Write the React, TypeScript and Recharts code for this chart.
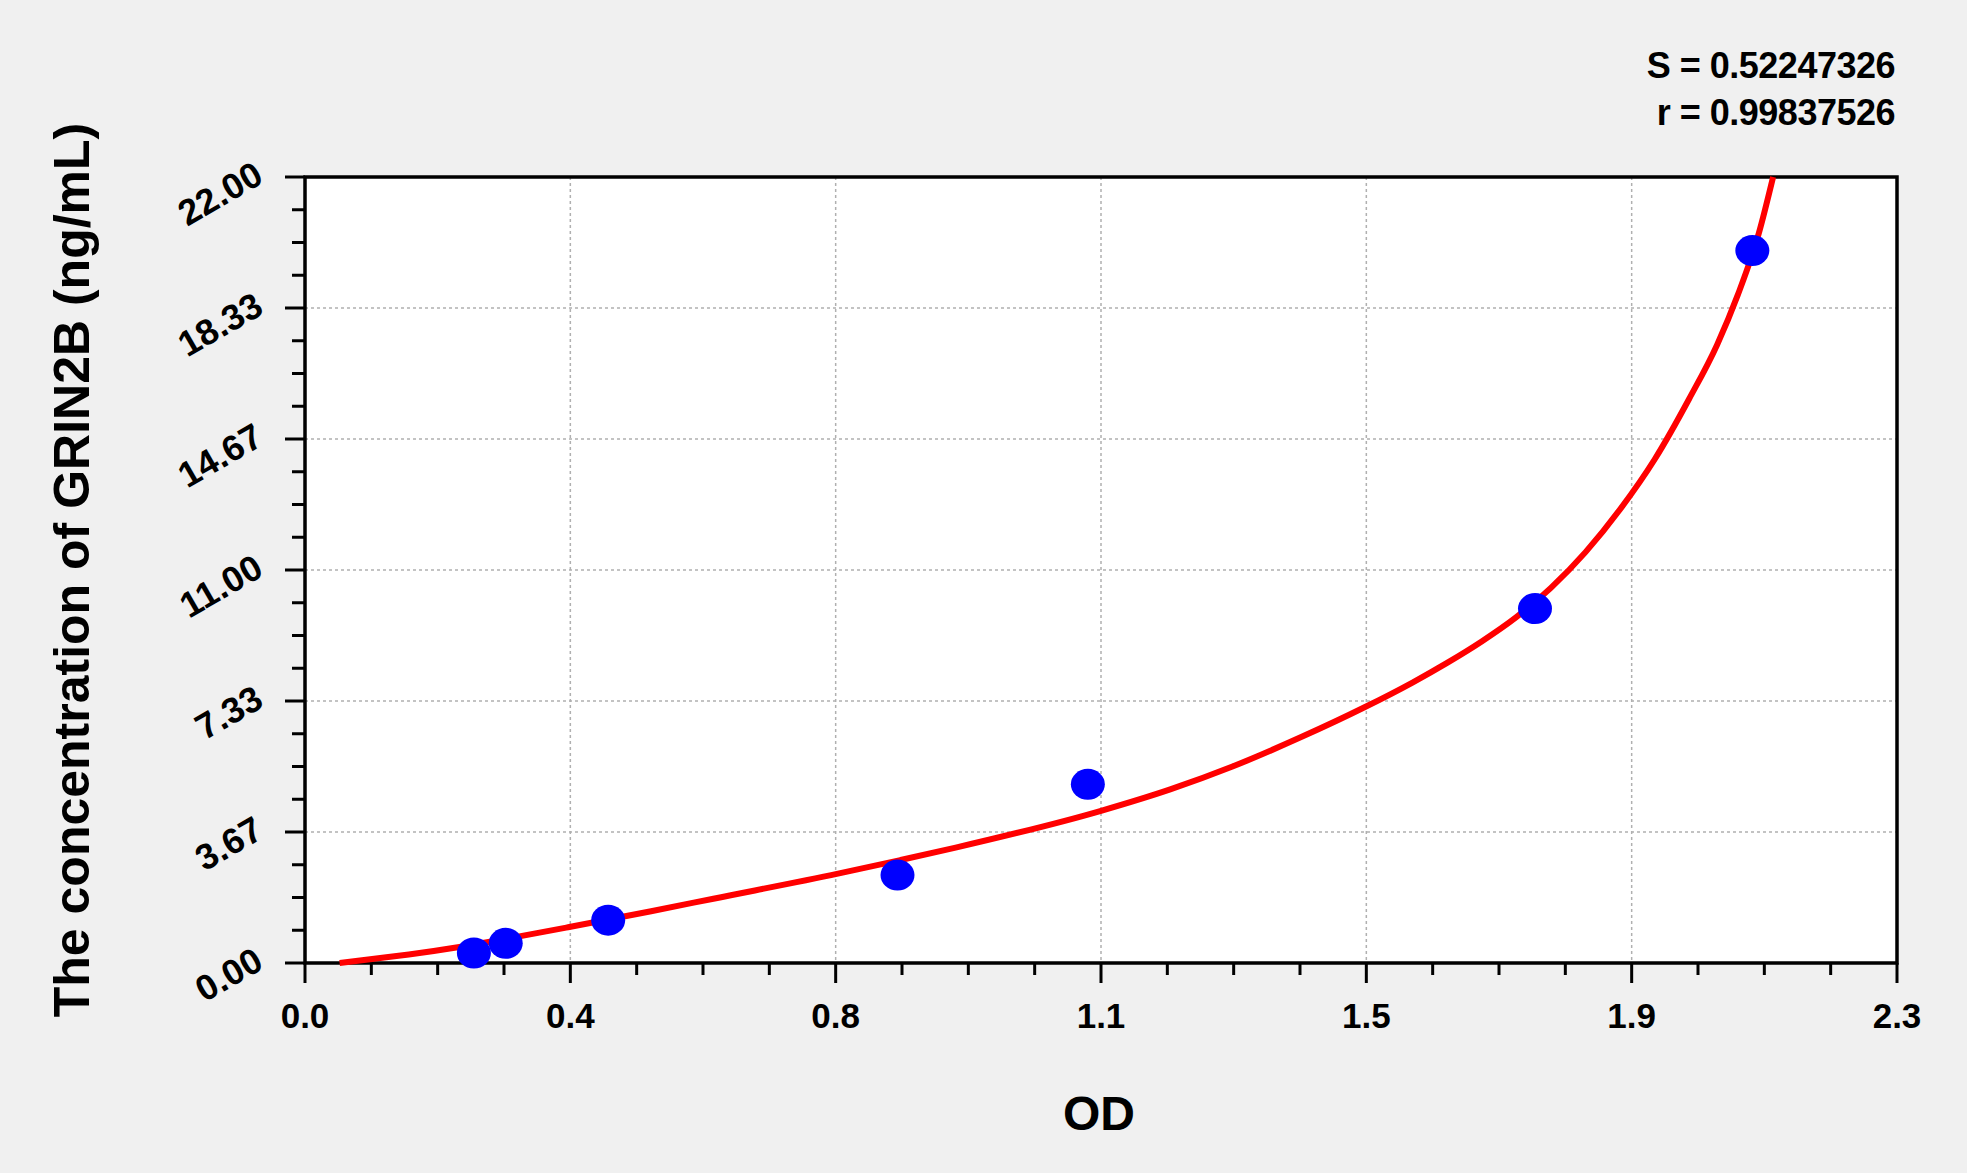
import { ComposedChart, Line, Scatter, XAxis, YAxis, CartesianGrid, ReferenceArea } from 'recharts';

// standards (OD vs concentration)
const odValues = [0.244, 0.29, 0.438, 0.856, 1.131, 1.777, 2.091];
const concValues = [0.28, 0.55, 1.2, 2.46, 5.0, 9.92, 19.94];

// fitted curve
const fitOD = [0.05, 0.1, 0.15, 0.23, 0.3, 0.38, 0.5, 0.59, 0.77, 0.86, 0.94, 1.15, 1.25, 1.34, 1.44, 1.53, 1.6, 1.65, 1.7, 1.75, 1.8, 1.85, 1.9, 1.95, 2.0, 2.04, 2.07, 2.1, 2.121];
const fitConc = [0.0, 0.12, 0.24, 0.47, 0.71, 1.0, 1.45, 1.8, 2.5, 2.88, 3.23, 4.26, 4.86, 5.5, 6.33, 7.15, 7.85, 8.4, 9.0, 9.68, 10.5, 11.5, 12.7, 14.1, 15.8, 17.3, 18.7, 20.4, 22.0];

const xTicks = [0, 0.38333, 0.76667, 1.15, 1.53333, 1.91667, 2.3];
const xTickLabels = ['0.0', '0.4', '0.8', '1.1', '1.5', '1.9', '2.3'];
const yTicks = [0, 3.66667, 7.33333, 11, 14.66667, 18.33333, 22];
const yTickLabels = ['0.00', '3.67', '7.33', '11.00', '14.67', '18.33', '22.00'];

const FONT = '"Liberation Sans", Arial, sans-serif';

// 3 minor ticks between each pair of major ticks
const withMinors = (major: number[]) => {
  const out: number[] = [];
  major.forEach((v, i) => {
    out.push(v);
    if (i < major.length - 1) {
      const step = (major[i + 1] - v) / 4;
      for (let k = 1; k < 4; k++) out.push(v + step * k);
    }
  });
  return out;
};

const xAllTicks = withMinors(xTicks);
const yAllTicks = withMinors(yTicks);

const standards = odValues.map((x, i) => ({ x, y: concValues[i] }));
const fit = fitOD.map((x, i) => ({ x, y: fitConc[i] }));

const majorIndex = (list: number[], v: number) => list.findIndex((t) => Math.abs(t - v) < 1e-6);

const XTick = (props: any) => {
  const { x, y, payload } = props;
  const idx = majorIndex(xTicks, payload.value);
  const major = idx >= 0;
  return (
    <g>
      <line x1={x} y1={y} x2={x} y2={y + (major ? 20 : 12)} stroke="#000" strokeWidth={3} />
      {major && (
        <text x={x} y={y + 52} textAnchor="middle" dominantBaseline="central" fontFamily={FONT} fontWeight="bold" fontSize={35} fill="#000">
          {xTickLabels[idx]}
        </text>
      )}
    </g>
  );
};

const YTick = (props: any) => {
  const { x, y, payload } = props;
  const idx = majorIndex(yTicks, payload.value);
  const major = idx >= 0;
  const ax = x - 46;
  const ay = y - 6;
  return (
    <g>
      <line x1={x} y1={y} x2={x - (major ? 20 : 13)} y2={y} stroke="#000" strokeWidth={3} />
      {major && (
        <text x={ax} y={ay} transform={`rotate(-30, ${ax}, ${ay})`} textAnchor="end" dominantBaseline="central" fontFamily={FONT} fontWeight="bold" fontSize={36} fill="#000">
          {yTickLabels[idx]}
        </text>
      )}
    </g>
  );
};

export default function App() {
  return (
    <div style={{ position: 'absolute', left: 0, top: 0, width: 1967, height: 1173, background: '#f0f0f0', overflow: 'hidden' }}>
      <ComposedChart width={1967} height={1173} margin={{ top: 177, right: 70, bottom: 209, left: 304 }}>
        <CartesianGrid fill="#ffffff" stroke="#b0b0b0" strokeWidth={1.5} strokeDasharray="3 3" horizontalValues={yTicks} verticalValues={xTicks} />
        <XAxis
          type="number"
          dataKey="x"
          domain={[0, 2.3]}
          ticks={xAllTicks}
          interval={0}
          height={1}
          tickSize={0}
          tickMargin={0}
          tickLine={false}
          axisLine={false}
          tick={(p: any) => <XTick {...p} />}
        />
        <YAxis
          type="number"
          dataKey="y"
          domain={[0, 22]}
          ticks={yAllTicks}
          interval={0}
          width={1}
          tickSize={0}
          tickMargin={0}
          tickLine={false}
          axisLine={false}
          tick={(p: any) => <YTick {...p} />}
        />
        <ReferenceArea x1={0} x2={2.3} y1={0} y2={22} fill="none" stroke="#000" strokeWidth={3.5} />
        <Scatter
          data={standards}
          dataKey="y"
          isAnimationActive={false}
          shape={(p: any) => <ellipse cx={p.cx} cy={p.cy} rx={17} ry={15.5} fill="#0000ff" />}
        />
        <Line
          data={fit}
          dataKey="y"
          type="monotone"
          stroke="#ff0000"
          strokeWidth={6}
          dot={false}
          activeDot={false}
          isAnimationActive={false}
        />
      </ComposedChart>
      <svg width={1967} height={1173} style={{ position: 'absolute', left: 0, top: 0, pointerEvents: 'none' }}>
        <text x={1895} y={65} textAnchor="end" dominantBaseline="central" fontFamily={FONT} fontWeight="bold" fontSize={36} letterSpacing={-0.5}>
          S = 0.52247326
        </text>
        <text x={1895} y={112} textAnchor="end" dominantBaseline="central" fontFamily={FONT} fontWeight="bold" fontSize={36} letterSpacing={-0.5}>
          r = 0.99837526
        </text>
        <text x={72} y={570} transform="rotate(-90, 72, 570)" textAnchor="middle" dominantBaseline="central" fontFamily={FONT} fontWeight="bold" fontSize={50}>
          The concentration of GRIN2B (ng/mL)
        </text>
        <text x={1099} y={1113} textAnchor="middle" dominantBaseline="central" fontFamily={FONT} fontWeight="bold" fontSize={48}>
          OD
        </text>
      </svg>
    </div>
  );
}
